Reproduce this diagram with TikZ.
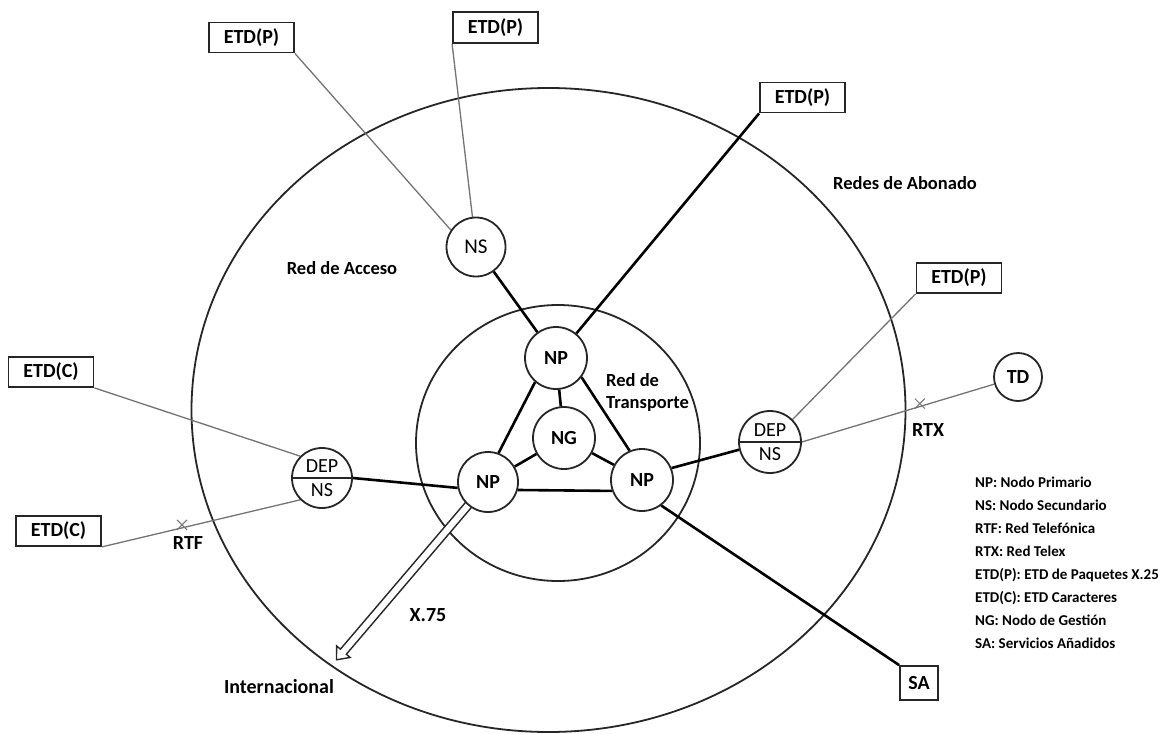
\documentclass[tikz,border=0pt]{standalone}
\usepackage{fontspec}
\setmainfont{Carlito}
\usetikzlibrary{calc,shapes.misc,shapes.arrows}
\pgfdeclarelayer{background}
\pgfsetlayers{background,main}
\begin{document}
\begin{tikzpicture}[x=1pt,y=-1pt,
  ring/.style={draw=black!85, line width=1.8pt},
  trunk/.style={draw=black, line width=2.6pt},
  feeder/.style={draw=black!55, line width=1.3pt},
  nodo/.style={circle, draw=black!85, line width=1.8pt, fill=white, minimum size=62pt, inner sep=0pt, font=\fontsize{20}{24}\selectfont\bfseries},
  nodoreg/.style={nodo, font=\fontsize{21}{24}\selectfont},
  parte/.style={inner sep=0pt, font=\fontsize{20}{24}\selectfont},
  equipo/.style={rectangle, draw=black!85, line width=1.8pt, fill=white, minimum width=85pt, minimum height=30pt, inner sep=0pt, font=\fontsize{20}{24}\selectfont\bfseries},
  zona/.style={font=\fontsize{18.5}{22}\selectfont\bfseries},
  rotulo/.style={font=\fontsize{20}{24}\selectfont\bfseries},
  leyenda/.style={anchor=base west, inner sep=0pt, font=\fontsize{15}{18}\selectfont\bfseries},
  enlace/.style={cross out, draw=black!55, line width=1pt, minimum size=9pt, inner sep=0pt},
  x75/.style={single arrow, draw=black!85, line width=1.4pt, fill=white, inner sep=3.2pt, single arrow head extend=5pt, single arrow tip angle=80}
]
\useasboundingbox (0,0) rectangle (1169,733);

% transport network nodes
\node[nodo] (NPt) at (556,358) {NP};
\node[nodo] (NG) at (564,438) {NG};
\node[nodo, minimum size=60pt] (NPl) at (488,482) {NP};
\node[nodo] (NPr) at (642,480) {NP};

% access network nodes
\node[nodoreg, minimum size=59pt] (NS) at (476,247) {NS};
\node[nodo, minimum size=60pt] (DPl) at (322,478) {};
\node[nodo] (DPr) at (770,442) {};
\node[nodo, minimum size=48pt] (TD) at (1018,377) {TD};

% DEP / NS split circles
\draw[line width=1.8pt, black!85] (DPl.west) -- (DPl.east);
\draw[line width=1.8pt, black!85] (DPr.west) -- (DPr.east);
\node[parte] (DPlu) at ([yshift=12pt]DPl.center) {DEP};
\node[parte] (DPld) at ([yshift=-12pt]DPl.center) {NS};
\node[parte] (DPru) at ([yshift=12pt]DPr.center) {DEP};
\node[parte] (DPrd) at ([yshift=-12pt]DPr.center) {NS};

% terminal equipment
\node[equipo] (P1) at (251.5,37.5) {ETD(P)};
\node[equipo, minimum height=31pt] (P2) at (495.5,27.5) {ETD(P)};
\node[equipo] (P3) at (802.5,97.5) {ETD(P)};
\node[equipo] (P4) at (959,278) {ETD(P)};
\node[equipo] (C1) at (51,372) {ETD(C)};
\node[equipo] (C2) at (58.5,531) {ETD(C)};
\node[equipo, minimum width=38pt, minimum height=34pt] (SA) at (919,683) {SA};

\coordinate (X75) at (338,658);
\coordinate (X75s) at ($(NPl.center)!20pt!(X75)$);

\begin{pgfonlayer}{background}
  % network zones
  \draw[ring] (548.5,410) ellipse [x radius=357pt, y radius=322pt];
  \draw[ring] (558,443) ellipse [x radius=142pt, y radius=138pt];
  % thin access lines
  \draw[feeder] (P1.south east) -- (NS.146);
  \draw[feeder] (P2.south west) -- (NS);
  \draw[feeder] (C1.south east) -- (DPl.north west);
  \draw[feeder] (C2.south east) -- node[enlace, pos=.404, yshift=3pt] (mRTF) {} (DPl.south west);
  \draw[feeder] (P4.south west) -- (DPr.north east);
  \draw[feeder] (DPr.east) -- node[enlace, pos=.613, yshift=3pt] (mRTX) {} (TD);
  % trunk lines
  \draw[trunk] (NS) -- (NPt);
  \draw[trunk] (P3.south west) -- (NPt);
  \draw[trunk] (NPl.70) -- (NPt.229);
  \draw[trunk] (NPt.-37) -- (NPr.113);
  \draw[trunk] (NPl.-15) -- (NPr.200);
  \draw[trunk] (NG) -- (NPt);
  \draw[trunk] (NG) -- (NPl);
  \draw[trunk] (NG) -- (NPr);
  \draw[trunk] (DPl.east) -- (NPl.191);
  \draw[trunk] (NPr.22) -- (DPr.194);
  \draw[trunk] (NPr.-53) -- (SA.north west);
  % international X.75 gateway
  \path let \p1=($(X75)-(X75s)$), \n1={atan2(\y1,\x1)}, \n2={veclen(\x1,\y1)} in
    node[x75, rotate=\n1, minimum height=\n2] (arrow) at ($(X75s)!.5!(X75)$) {};
\end{pgfonlayer}

% zone and link labels
\node[zona] (lAcc) at (342,268) {Red de Acceso};
\node[zona] (lAbo) at (905,183) {Redes de Abonado};
\node[zona, anchor=base west, inner sep=0pt] (lTr1) at (606,386) {Red de};
\node[zona, anchor=base west, inner sep=0pt] (lTr2) at (606,408) {Transporte};
\node[zona, font=\fontsize{20}{24}\selectfont\bfseries] (lInt) at (279,687) {Internacional};
\node[rotulo] (lRTX) at (928,430) {RTX};
\node[rotulo] (lRTF) at (188,543) {RTF};
\node[rotulo] (lX75) at (428,615) {X.75};

% legend
\foreach \txt [count=\i from 0] in {NP: Nodo Primario, NS: Nodo Secundario, RTF: Red Telefónica, RTX: Red Telex, ETD(P): ETD de Paquetes X.25, ETD(C): ETD Caracteres, NG: Nodo de Gestión, SA: Servicios Añadidos}
  \node[leyenda] (ley\i) at (975, 487+23*\i) {\txt};
\end{tikzpicture}
\end{document}
